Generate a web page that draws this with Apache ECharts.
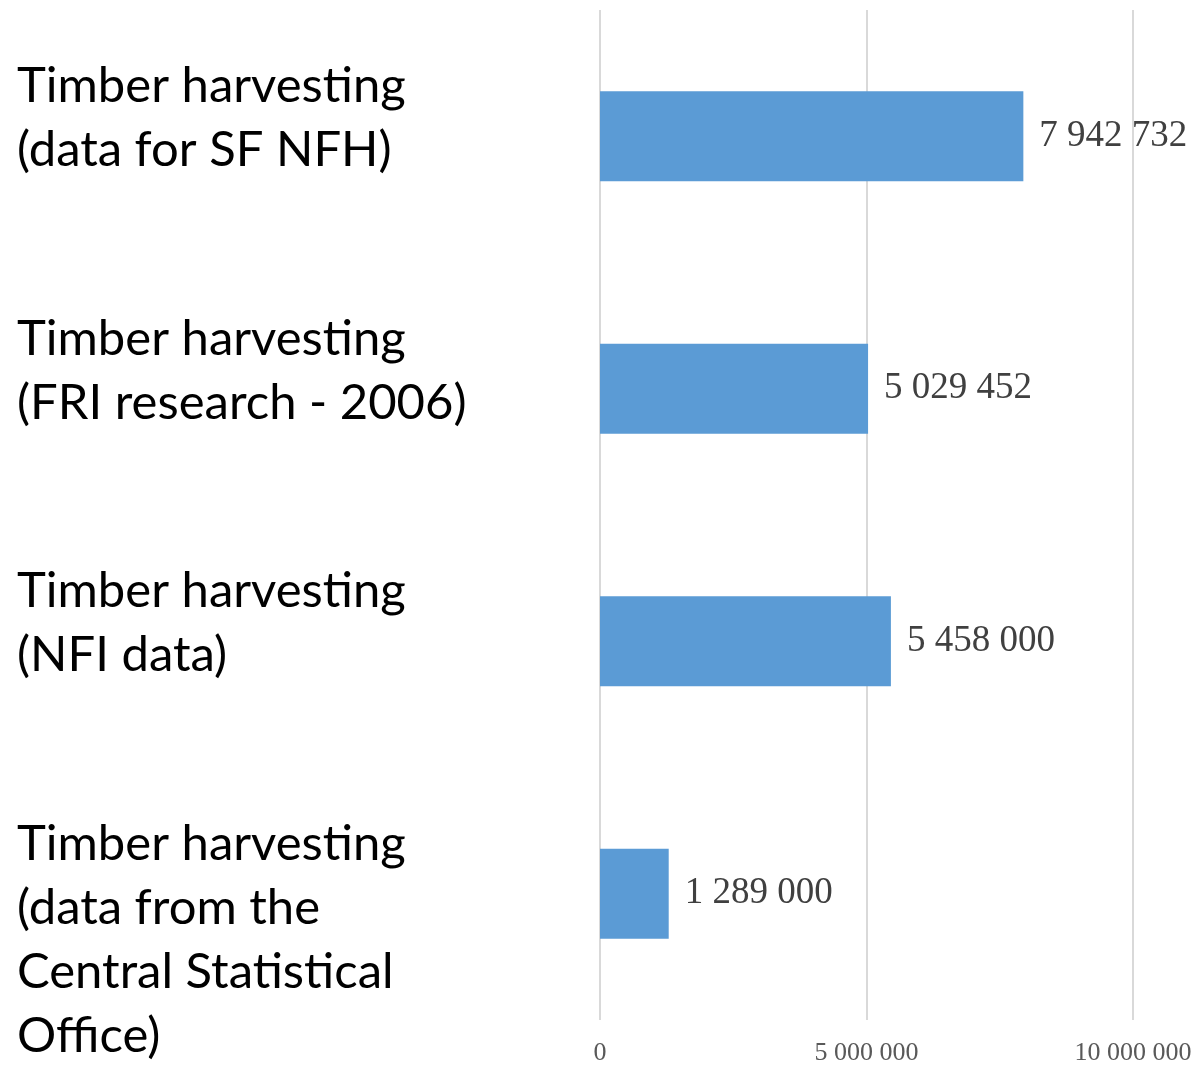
<!DOCTYPE html>
<html>
<head>
<meta charset="utf-8">
<script src="https://cdn.jsdelivr.net/npm/echarts@6/dist/echarts.min.js"></script>
<style>html,body{margin:0;padding:0;background:#fff}#c{width:1196px;height:1065px}</style>
</head>
<body>
<div id="c"></div>
<script>
const categories = [
  "Timber harvesting\n(data for SF NFH)",
  "Timber harvesting\n(FRI research - 2006)",
  "Timber harvesting\n(NFI data)",
  "Timber harvesting\n(data from the\nCentral Statistical\nOffice)"
];
const values = [7942732, 5029452, 5458000, 1289000];
const axisTicks = [0, 5000000, 10000000];

function fmt(v) {
  return String(Math.round(v)).replace(/\B(?=(\d{3})+(?!\d))/g, ' ');
}

// label layout: text block starts a fixed distance above the bar centre
const LINE_H = 64;
const TOP_OFFSET = 82;
const rich = {
  t: { fontFamily: 'Lato', fontSize: 49, lineHeight: LINE_H, color: '#000', align: 'left' }
};
const spacer = {};
categories.forEach(function (c, i) {
  const n = c.split('\n').length;
  const shift = LINE_H * n / 2 - TOP_OFFSET;   // >0: move down, <0: move up
  const h = Math.abs(2 * shift);
  rich['sp' + i] = { fontSize: 1, lineHeight: h, height: h };
  spacer[c] = { pos: shift > 0 ? 'top' : 'bottom', key: 'sp' + i };
});

function catLabel(c) {
  const body = c.split('\n').map(function (l) { return '{t|' + l + '}'; }).join('\n');
  const s = spacer[c];
  if (!s) return body;
  return s.pos === 'top' ? '{' + s.key + '| }\n' + body : body + '\n{' + s.key + '| }';
}

const chart = echarts.init(document.getElementById('c'));
chart.setOption({
  animation: false,
  grid: { left: 600, right: 63, top: 10, bottom: 45, containLabel: false, outerBoundsMode: 'none' },
  xAxis: {
    type: 'value',
    min: axisTicks[0],
    max: axisTicks[axisTicks.length - 1],
    interval: axisTicks[1] - axisTicks[0],
    axisLine: { show: false },
    axisTick: { show: false },
    splitLine: { show: true, lineStyle: { color: '#d9d9d9', width: 2 } },
    axisLabel: {
      margin: 20,
      color: '#595959',
      fontFamily: 'Liberation Serif',
      fontSize: 26,
      formatter: fmt
    }
  },
  yAxis: {
    type: 'category',
    inverse: true,
    data: categories,
    axisLine: { show: false },
    axisTick: { show: false },
    splitLine: { show: false },
    axisLabel: {
      interval: 0,
      hideOverlap: false,
      margin: 583,
      align: 'left',
      verticalAlign: 'middle',
      color: '#000',
      fontFamily: 'Lato',
      fontSize: 49,
      lineHeight: LINE_H,
      formatter: catLabel,
      rich: rich
    }
  },
  series: [{
    type: 'bar',
    data: values,
    barWidth: 90,
    itemStyle: { color: '#5b9bd5' },
    label: {
      show: true,
      position: 'right',
      distance: 16,
      color: '#404040',
      fontFamily: 'Liberation Serif',
      fontSize: 37,
      formatter: function (p) { return fmt(p.value); }
    }
  }]
});
</script>
</body>
</html>
